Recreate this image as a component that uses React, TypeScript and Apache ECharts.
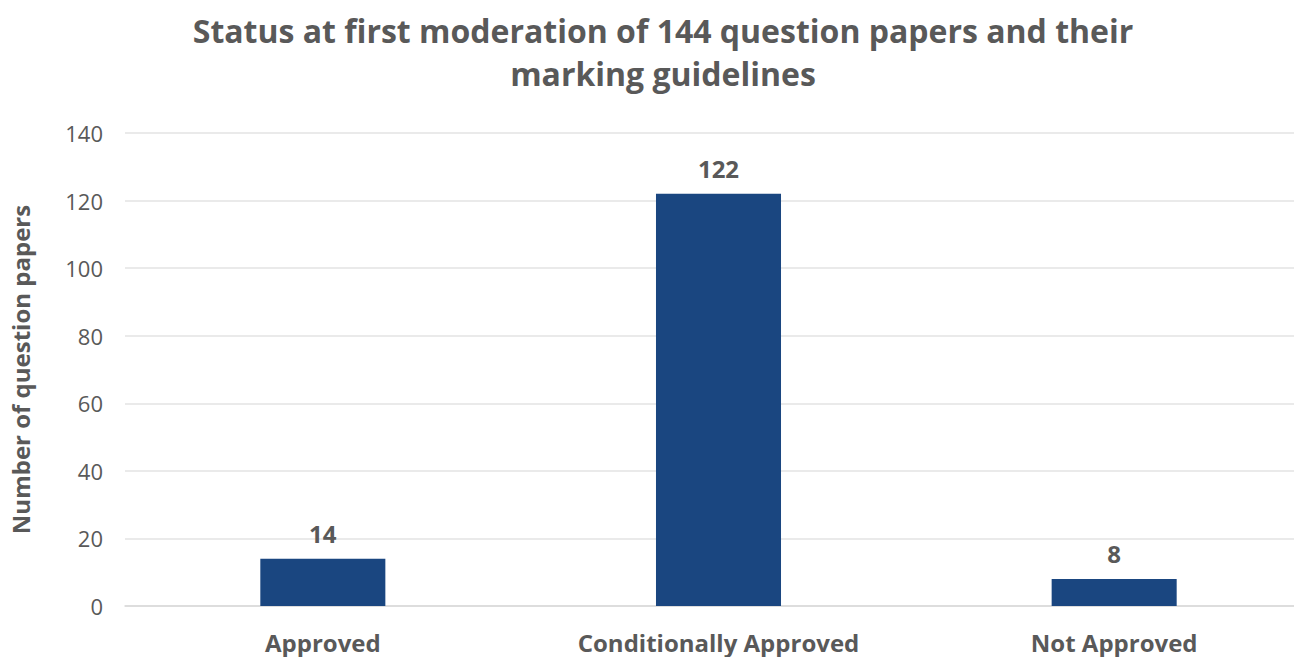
import React, { useEffect, useRef } from "react";
import * as echarts from "echarts";

const titleLines = ["Status at first moderation of 144 question papers and their", "marking guidelines"];
const categories = ["Approved", "Conditionally Approved", "Not Approved"];
const values = [14, 122, 8];
const yAxisName = "Number of question papers";

export default function App() {
  const ref = useRef<HTMLDivElement>(null);
  useEffect(() => {
    if (!ref.current) return;
    const chart = echarts.init(ref.current, null, { renderer: "svg" });
    const font = "'Open Sans', 'DejaVu Sans', sans-serif";
    chart.setOption({
      animation: false,
      backgroundColor: "#ffffff",
      title: {
        text: titleLines.join("\n"),
        left: 658,
        textAlign: "center",
        top: 4,
        textStyle: {
          fontFamily: font,
          fontSize: 32,
          fontWeight: "bold",
          color: "#595959",
          lineHeight: 43,
        },
      },
      grid: { left: 124, top: 133, width: 1188, height: 473, containLabel: false },
      xAxis: {
        type: "category",
        data: categories,
        axisLine: { show: true, lineStyle: { color: "#d9d9d9", width: 1.5 } },
        axisTick: { show: false },
        axisLabel: {
          fontFamily: font,
          fontSize: 24,
          fontWeight: "bold",
          color: "#595959",
          margin: 24,
        },
      },
      yAxis: {
        type: "value",
        min: 0,
        max: 140,
        interval: 20,
        name: yAxisName,
        nameLocation: "middle",
        nameGap: 93,
        nameTextStyle: {
          fontFamily: font,
          fontSize: 24,
          fontWeight: "bold",
          color: "#595959",
        },
        axisLine: { show: false },
        axisTick: { show: false },
        splitLine: { lineStyle: { color: "#e3e3e3", width: 1.5 } },
        axisLabel: {
          fontFamily: font,
          fontSize: 22,
          color: "#595959",
          margin: 22,
        },
      },
      series: [
        {
          type: "bar",
          data: values,
          barWidth: "31.6%",
          itemStyle: { color: "#1a4680" },
          label: {
            show: true,
            position: "top",
            distance: 13,
            fontFamily: font,
            fontSize: 24,
            fontWeight: "bold",
            color: "#595959",
          },
        },
      ],
    });
    return () => chart.dispose();
  }, []);
  return (
    <div style={{ position: "fixed", left: 0, top: 0, width: 1294, height: 657, overflow: "hidden" }}>
      <div ref={ref} style={{ width: 1320, height: 657 }} />
    </div>
  );
}
